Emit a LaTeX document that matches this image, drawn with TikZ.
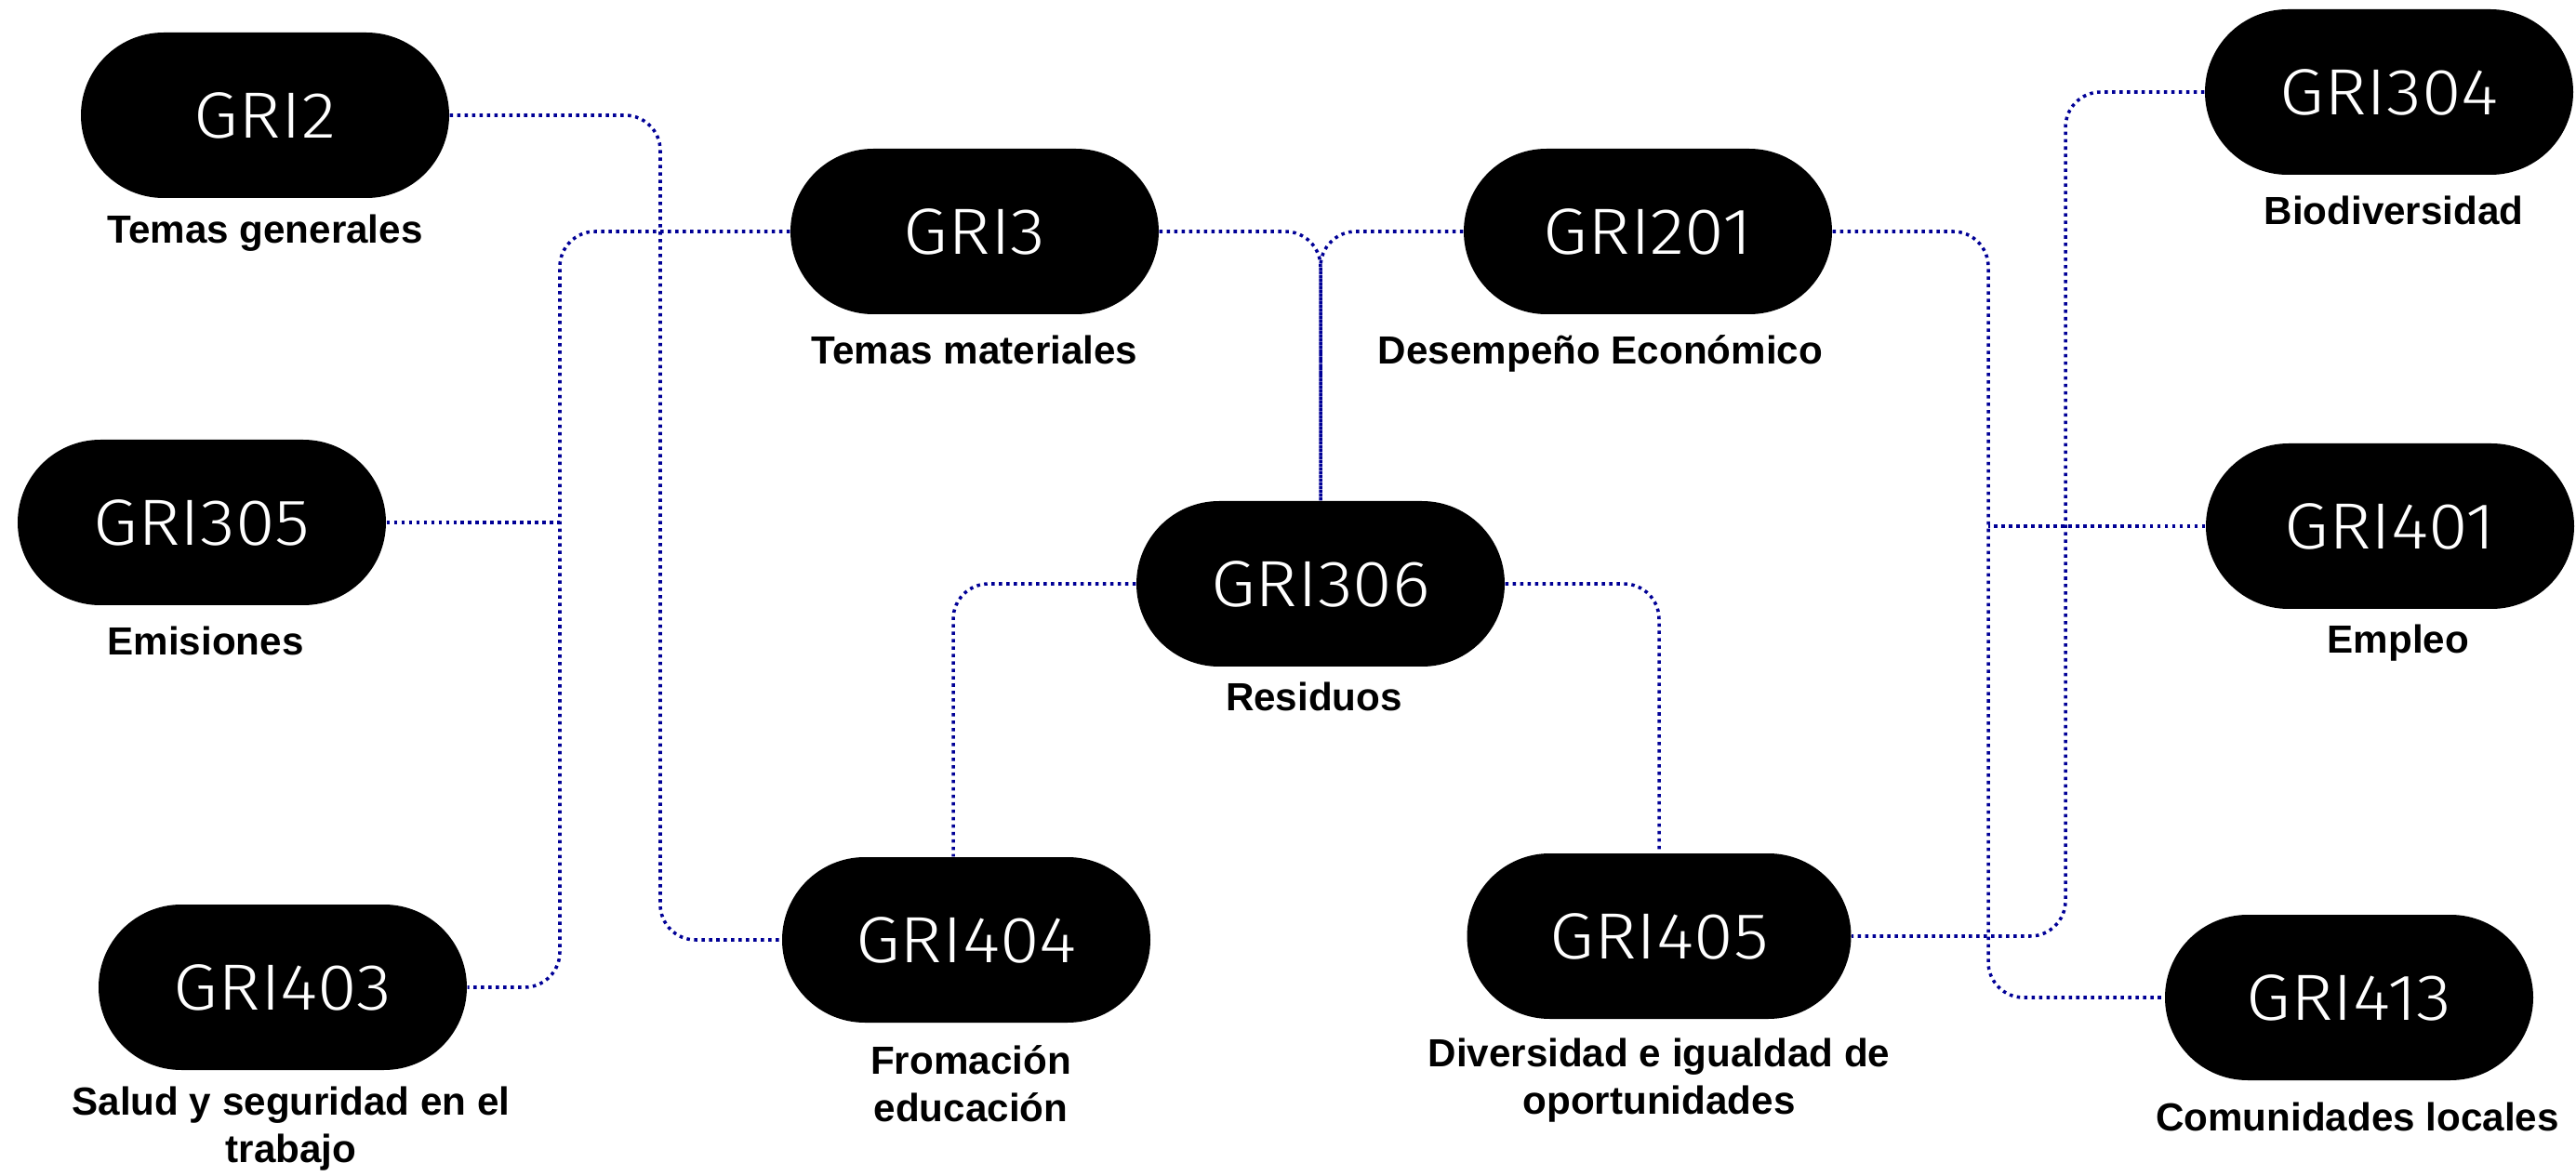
\documentclass[tikz,border=0pt]{standalone}
\usepackage{fontspec}
\setmainfont{Liberation Sans}
\newfontfamily\grifont[FakeStretch=1.1]{Fira Sans Light}

\definecolor{linknavy}{RGB}{0,0,150}

\begin{document}
\begin{tikzpicture}[x=1cm, y=1cm,
  gri/.style={fill=black, text=white, rounded corners=0.89cm,
              minimum width=3.96cm, minimum height=1.78cm, inner sep=0pt,
              font=\grifont\fontsize{20}{24}\selectfont},
  lab/.style={align=center, font=\bfseries\fontsize{12}{14.5}\selectfont},
  link/.style={linknavy, line width=1pt, dash pattern=on 1pt off 1.27pt,
               rounded corners=0.38cm}]

\useasboundingbox (0,0) rectangle (27.7,-12.65);

% -------- GRI boxes -----------
\node[gri] (gri2)   at (2.85, -1.24)  {GRI2};
\node[gri] (gri3)   at (10.48, -2.49) {GRI3};
\node[gri] (gri201) at (17.72, -2.49) {GRI201};
\node[gri] (gri304) at (25.69, -0.99) {GRI304};
\node[gri] (gri305) at (2.17, -5.62)  {GRI305};
\node[gri] (gri306) at (14.20, -6.28) {GRI306};
\node[gri] (gri401) at (25.70, -5.66) {GRI401};
\node[gri] (gri403) at (3.04, -10.62) {GRI403};
\node[gri] (gri404) at (10.39, -10.11) {GRI404};
\node[gri, minimum width=4.13cm] (gri405) at (17.84, -10.07) {GRI405};
\node[gri] (gri413) at (25.26, -10.73) {GRI413};

% -------- Labels -----------
\node[lab] (l2)   at (2.85, -2.51)  {Temas generales};
\node[lab] (l3)   at (10.48, -3.76) {Temas materiales};
\node[lab] (l201) at (17.21, -3.80) {Desempeño Económico};
\node[lab] (l304) at (25.74, -2.26) {Biodiversidad};
\node[lab] (l305) at (2.21, -6.89)  {Emisiones};
\node[lab] (l306) at (14.13, -7.49) {Residuos};
\node[lab] (l401) at (25.79, -6.92) {Empleo};
\node[lab] (l403) at (3.13, -12.14) {Salud y seguridad en el\\trabajo};
\node[lab] (l404) at (10.44, -11.66) {Fromación\\educación};
\node[lab] (l405) at (17.84, -11.62) {Diversidad e igualdad de\\oportunidades};
\node[lab] (l413) at (25.35, -12.01) {Comunidades locales};

% -------- Connectors -----------
\coordinate (c1) at (7.10, -5);
\coordinate (c2) at (6.02, -5);
\coordinate (c8) at (21.38, -5);
\coordinate (c9) at (22.21, -5);

\draw[link] (gri2.east) -| (c1) |- (gri404.west);
\draw[link] (gri3.west) -| (c2) |- (gri403.east);
\draw[link] (gri305.east) -- (gri305.east -| c2);

\draw[link] (gri3.east) -| (gri306.north);
\draw[link] (gri201.west) -| (gri306.north);

\draw[link] (gri306.west) -| ([xshift=-1.4mm]gri404.north);
\draw[link] (gri306.east) -| (gri405.north);

\draw[link] (gri201.east) -| (c8) |- (gri413.west);
\draw[link] (gri304.west) -| (c9) |- (gri405.east);
\draw[link] (gri401.west) -- (gri401.west -| c8);

\end{tikzpicture}
\end{document}
